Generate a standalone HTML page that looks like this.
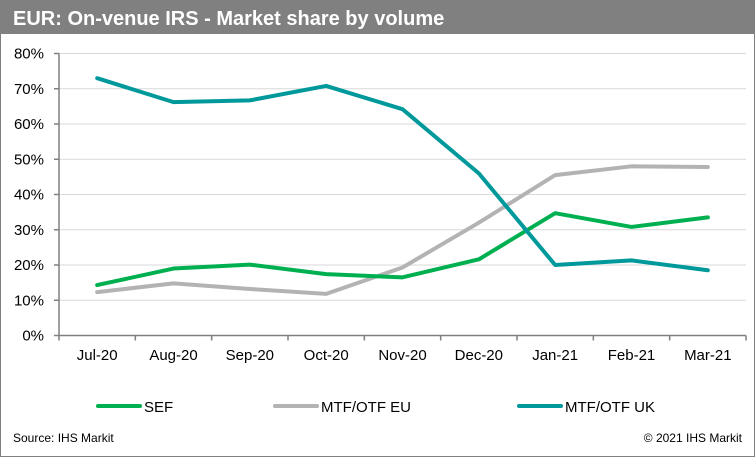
<!DOCTYPE html>
<html><head><meta charset="utf-8"><style>
body{margin:0;background:#fff;font-family:"Liberation Sans",Arial,sans-serif;}
#wrap{position:relative;width:755px;height:457px;overflow:hidden;}
</style></head><body>
<div id="wrap">
<svg id="chart" width="755" height="457" xmlns="http://www.w3.org/2000/svg">
<rect x="0.5" y="0.5" width="754" height="456" fill="#fff" stroke="#808080"/>
<rect x="0" y="0" width="755" height="34" fill="#808080"/>
<text x="13" y="25" font-size="20" font-weight="bold" fill="#fff">EUR:  On-venue IRS - Market share by volume</text>
<g id="grid"></g><g id="axes"></g><g id="series"></g>
<g>
<line x1="98" y1="406" x2="140" y2="406" stroke="#00b050" stroke-width="4" stroke-linecap="round"/>
<text x="144" y="412" font-size="15" fill="#000">SEF</text>
<line x1="275" y1="406" x2="317" y2="406" stroke="#b3b3b3" stroke-width="4" stroke-linecap="round"/>
<text x="321" y="412" font-size="15" fill="#000">MTF/OTF EU</text>
<line x1="519" y1="406" x2="561" y2="406" stroke="#00999b" stroke-width="4" stroke-linecap="round"/>
<text x="565" y="412" font-size="15" fill="#000">MTF/OTF UK</text>
</g>
<text x="13" y="442" font-size="12" fill="#000">Source: IHS Markit</text>
<text x="742" y="442" font-size="12" fill="#000" text-anchor="end">© 2021 IHS Markit</text>
</svg>
</div>
<script>
const categories=["Jul-20","Aug-20","Sep-20","Oct-20","Nov-20","Dec-20","Jan-21","Feb-21","Mar-21"];
const sef=[14.3,19,20.1,17.4,16.5,21.6,34.7,30.8,33.5];
const mtfEu=[12.3,14.8,13.2,11.8,19.3,32,45.5,48,47.8];
const mtfUk=[73,66.2,66.7,70.8,64.2,46,20,21.3,18.5];
const yTicks=[0,10,20,30,40,50,60,70,80];
const NS="http://www.w3.org/2000/svg";
const x0=59,x1=746,y0=335.5,y1=53.5;
const step=(x1-x0)/categories.length;
function xs(i){return x0+step*(i+0.5);}
function ys(v){return y0-(v/80)*(y0-y1);}
function mk(tag,attrs,parent){const e=document.createElementNS(NS,tag);for(const k in attrs)e.setAttribute(k,attrs[k]);parent.appendChild(e);return e;}
const grid=document.getElementById('grid'),axes=document.getElementById('axes'),ser=document.getElementById('series');
yTicks.forEach(t=>{
  const y=ys(t);
  if(t>0){const g=mk('line',{x1:x0,x2:x1,y1:y,y2:y,stroke:'#d9d9d9','stroke-width':1},grid);
  
  }
  const tk=mk('line',{x1:x0-5,x2:x0,y1:y,y2:y,stroke:'#808080','stroke-width':1.5},axes);
  
  
  const l=mk('text',{x:44,y:y+5,'font-size':15,'text-anchor':'end',fill:'#000'},axes);
  l.textContent=t+'%';
  
  
});
const ya=mk('line',{x1:x0,x2:x0,y1:y1,y2:y0,stroke:'#808080','stroke-width':1.5},axes);


const xa=mk('line',{x1:x0,x2:x1,y1:y0,y2:y0,stroke:'#808080','stroke-width':1.5},axes);


for(let i=0;i<=categories.length;i++){
  const x=x0+step*i;
  const tk=mk('line',{x1:x,x2:x,y1:y0,y2:y0+5,stroke:'#808080','stroke-width':1.5},axes);
  
  
}
categories.forEach((c,i)=>{
  const t=mk('text',{x:xs(i),y:360,'font-size':15,'text-anchor':'middle',fill:'#000'},axes);
  t.textContent=c;
  
  
});
function line(vals,color,name){
  const p=mk('polyline',{points:vals.map((v,i)=>xs(i)+','+ys(v)).join(' '),fill:'none',stroke:color,'stroke-width':4,'stroke-linejoin':'round','stroke-linecap':'round'},ser);
  
  
}
line(mtfEu,'#b3b3b3','series-mtf-otf-eu');
line(sef,'#00b050','series-sef');
line(mtfUk,'#00999b','series-mtf-otf-uk');
</script>
</body></html>
